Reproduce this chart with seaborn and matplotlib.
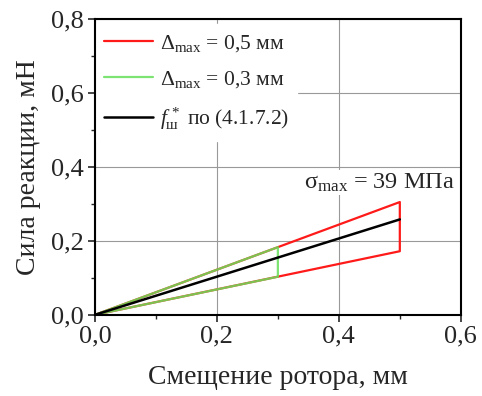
import matplotlib
matplotlib.use("Agg")
import matplotlib.pyplot as plt
import matplotlib.ticker as ticker
import seaborn as sns

# data
red_x = [0.0, 0.5, 0.5, 0.0]
red_y = [0.0, 0.305, 0.172, 0.0]
green_x = [0.0, 0.3, 0.3, 0.0]
green_y = [0.0, 0.183, 0.103, 0.0]
black_x = [0.0, 0.5]
black_y = [0.0, 0.258]

labels = [r"Δ$_{\mathrm{max}}$ = 0,5 мм",
          r"Δ$_{\mathrm{max}}$ = 0,3 мм",
          r"$f_{\mathrm{ш}}^{\,*}$ по (4.1.7.2)"]

sns.set_style("ticks")
plt.rcParams["font.family"] = ["Liberation Serif", "DejaVu Serif"]
plt.rcParams["mathtext.fontset"] = "custom"
plt.rcParams["mathtext.rm"] = "Liberation Serif"
plt.rcParams["mathtext.it"] = "Liberation Serif:italic"
plt.rcParams["mathtext.bf"] = "Liberation Serif:bold"

fig, ax = plt.subplots(figsize=(4.82, 3.96), dpi=100)
fig.subplots_adjust(left=0.197, right=0.956, top=0.952, bottom=0.205)

sns.lineplot(x=red_x, y=red_y, sort=False, estimator=None, color="#ff1a1a",
             lw=1.6, ax=ax, label=labels[0])
sns.lineplot(x=green_x, y=green_y, sort=False, estimator=None, color="#66e05a",
             lw=1.6, ax=ax, label=labels[1], alpha=0.85)
sns.lineplot(x=black_x, y=black_y, sort=False, estimator=None, color="black",
             lw=1.8, ax=ax, label=labels[2])

ax.set_xlim(0, 0.6)
ax.set_ylim(0, 0.8)
ax.xaxis.set_major_locator(ticker.MultipleLocator(0.2))
ax.xaxis.set_minor_locator(ticker.MultipleLocator(0.1))
ax.yaxis.set_major_locator(ticker.MultipleLocator(0.2))
ax.yaxis.set_minor_locator(ticker.MultipleLocator(0.1))
fmt = ticker.FuncFormatter(lambda v, p: ("%.1f" % v).replace(".", ","))
ax.xaxis.set_major_formatter(fmt)
ax.yaxis.set_major_formatter(fmt)
ax.tick_params(which="major", length=5, width=1.2, labelsize=19, direction="out", pad=3)
ax.tick_params(which="minor", length=3, width=1.0, direction="out")
ax.grid(True, which="major", color="#999999", lw=0.8)
for s in ax.spines.values():
    s.set_linewidth(1.5)
    s.set_color("black")

ax.set_xlabel("Смещение ротора, мм", fontsize=20, labelpad=12)
ax.set_ylabel("Сила реакции, мН", fontsize=20, labelpad=7)

leg = ax.legend(loc="upper left", bbox_to_anchor=(0.0, 0.982), fontsize=15.5,
                frameon=True, fancybox=False,
                handlelength=2.3, handletextpad=0.3, labelspacing=0.72,
                borderaxespad=0.0, borderpad=0.4)
leg.get_frame().set_edgecolor("white")
leg.get_frame().set_alpha(1.0)
leg.set_zorder(2.4)  # keep the white box under the spines

ax.text(0.467, 0.357, r"σ$_{\mathrm{max}}$ = 39 МПа", fontsize=17.5,
        ha="center", va="center", zorder=2.4,
        bbox=dict(facecolor="white", edgecolor="none", pad=1))

fig.savefig("out.png", dpi=100)
